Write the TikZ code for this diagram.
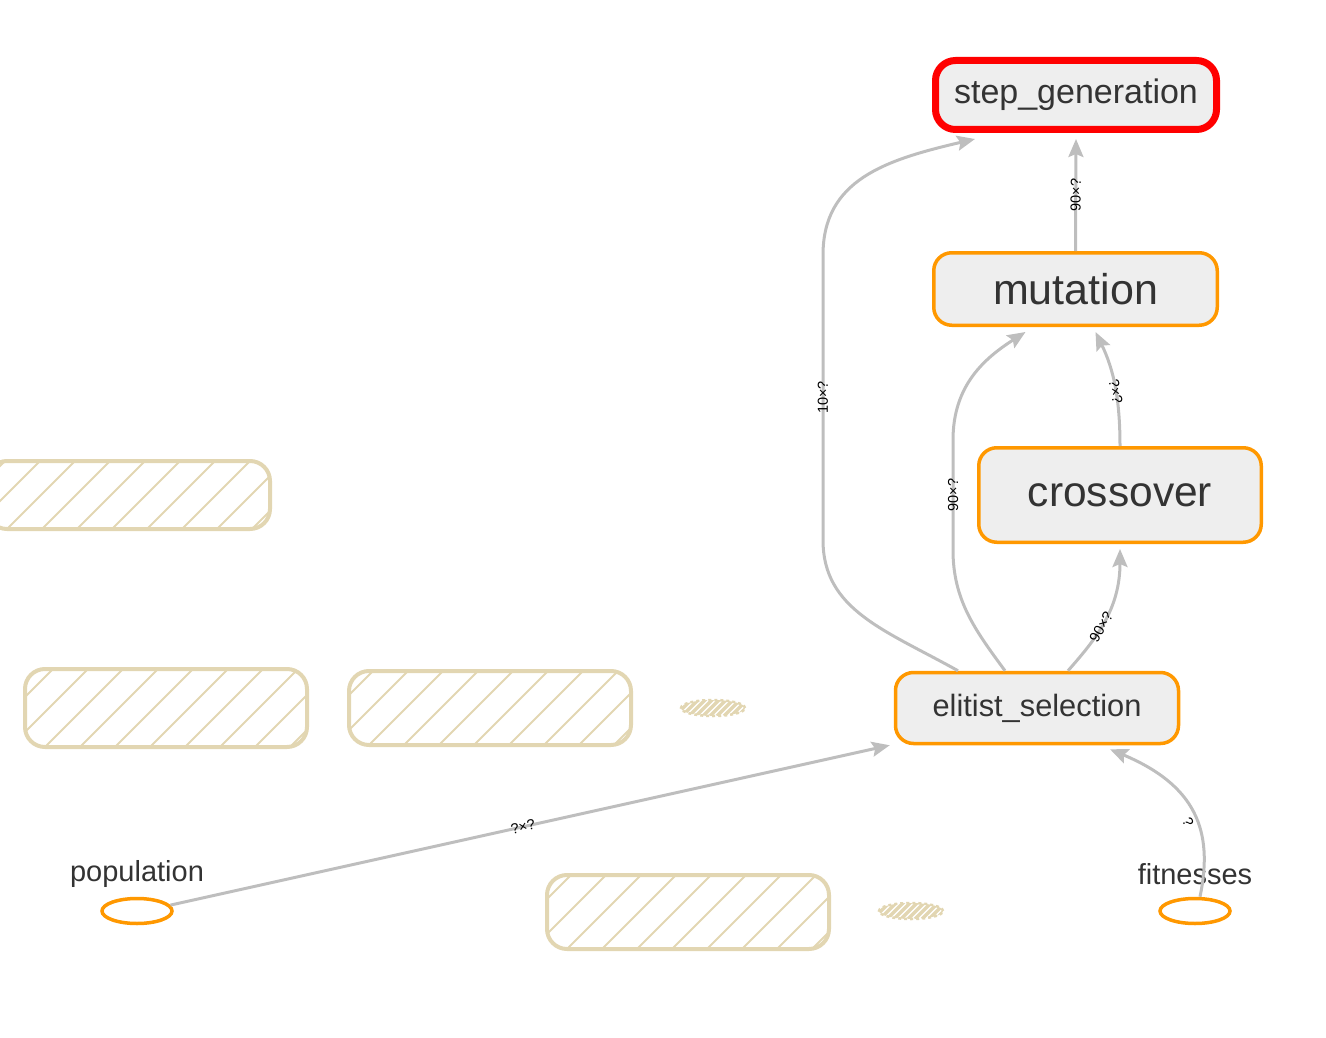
\documentclass[tikz,border=0pt]{standalone}
\usepackage{fontspec}
\setmainfont{Liberation Sans}
\usetikzlibrary{arrows.meta,calc,shapes.geometric}
\definecolor{orng}{RGB}{255,152,0}
\definecolor{redb}{RGB}{255,0,0}
\definecolor{nodefill}{RGB}{238,238,238}
\definecolor{tanc}{RGB}{226,214,178}
\definecolor{edgec}{RGB}{190,190,190}
\definecolor{txt}{RGB}{51,51,51}
\begin{document}
\begin{tikzpicture}[x=1pt,y=-1pt,
  opnode/.style={draw=orng, line width=3.5pt, fill=nodefill, rounded corners=18pt, text=txt, inner sep=0pt},
  mainnode/.style={draw=redb, line width=7pt, fill=nodefill, rounded corners=20pt, text=txt, inner sep=0pt},
  hatchbox/.style={draw=tanc, line width=4pt, rounded corners=20pt, inner sep=0pt,
    path picture={\foreach \i in {-120,-85,...,320} \draw[tanc, line width=2pt] ($(path picture bounding box.south west)+(\i,0)$) -- ++(130,-130);}},
  hatchell/.style={ellipse, draw=tanc, dashed, line width=2.5pt, inner sep=0pt, minimum width=64pt, minimum height=16pt,
    path picture={\foreach \i in {-20,-13,...,80} \draw[tanc, solid, line width=3.5pt] ($(path picture bounding box.south west)+(\i,0)$) -- ++(20,-20);}},
  inell/.style={ellipse, draw=orng, line width=3.5pt, fill=white, inner sep=0pt, minimum width=70pt, minimum height=25pt},
  inlab/.style={text=txt, font=\fontsize{29}{32}\selectfont, inner sep=0pt},
  edge/.style={draw=edgec, line width=3pt, -{Stealth[length=18pt,width=15pt,inset=3pt]}},
  elab/.style={font=\fontsize{14.5}{15}\selectfont, inner sep=1pt, text=black}
]
\clip (0,0) rectangle (1326,1038);
% hatched groups
\node[hatchbox, minimum width=283pt, minimum height=68pt] (h1) at (128.5,495) {};
\node[hatchbox, minimum width=282pt, minimum height=78pt] (h2) at (166,708) {};
\node[hatchbox, minimum width=282pt, minimum height=74pt] (h3) at (490,708) {};
\node[hatchbox, minimum width=282pt, minimum height=74pt] (h4) at (688,912) {};
\node[hatchell] (s1) at (713,708) {};
\node[hatchell] (s2) at (911,911) {};
% ops
\node[mainnode, minimum width=281pt, minimum height=69pt, font=\fontsize{34}{40}\selectfont] (sg) at (1076,95) {step\_generation};
\node[opnode, minimum width=283.5pt, minimum height=72.5pt, font=\fontsize{43}{48}\selectfont] (mu) at (1075.5,289) {mutation};
\node[opnode, minimum width=282.5pt, minimum height=94.5pt, font=\fontsize{42.5}{48}\selectfont] (co) at (1120,495) {crossover};
\node[opnode, minimum width=283pt, minimum height=71pt, font=\fontsize{30.8}{36}\selectfont] (es) at (1037,708) {elitist\_selection};
% inputs
\node[inell] (pop) at (137,911) {};
\node[inlab] (poplab) at (137,874) {population};
\node[inell] (fit) at (1195,911) {};
\node[inlab] (fitlab) at (1195,874) {fitnesses};
% edges
\draw[edge] ($(es.north)+(-79,0)$) .. controls (885,630) and (823,610) .. (823,540) -- node[elab,sloped]{10×?} (823,255) .. controls (823,180) and (885,160) .. ($(sg.south)+(-101,6)$);
\draw[edge] ($(es.north)+(-32,0)$) .. controls (975,630) and (953,600) .. (953,550) -- node[elab,sloped]{90×?} (953,440) .. controls (953,385) and (985,358) .. ($(mu.south)+(-50,5)$);
\draw[edge] ($(es.north)+(31,0)$) .. controls (1095,640) and (1120,610) .. node[elab,sloped,pos=0.45]{90×?} ($(co.south)+(0,5)$);
\draw[edge] (co.north) .. controls (1120,400) and (1114,370) .. node[elab,sloped,pos=0.45]{?×?} ($(mu.south)+(20,5)$);
\draw[edge] (mu.north) -- node[elab,sloped]{90×?} ($(sg.south)+(0,6)$);
\draw[edge] (pop.10) -- node[elab,sloped,pos=0.49]{?×?} ($(es.south west)+(-4,0)$);
\draw[edge] ($(fit.north)+(5,0)$) .. controls (1214,830) and (1195,785) .. node[elab,sloped,pos=0.45,below=1pt]{?} ($(es.south)+(73,4)$);
\end{tikzpicture}
\end{document}
